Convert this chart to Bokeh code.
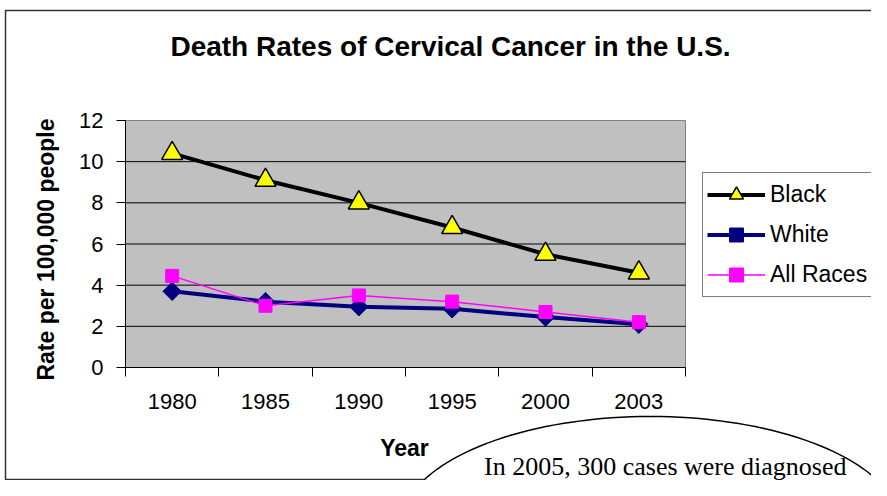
import math
from bokeh.plotting import figure
from bokeh.models import (FixedTicker, Range1d, LinearAxis, BoxAnnotation,
                          PolyAnnotation, Label)
from bokeh.embed import file_html
from bokeh.resources import INLINE

# ---- data ----
years = ["1980", "1985", "1990", "1995", "2000", "2003"]
black = [10.4, 9.1, 8.0, 6.8, 5.5, 4.6]
white = [3.7, 3.2, 2.95, 2.85, 2.45, 2.1]
all_races = [4.45, 3.0, 3.5, 3.2, 2.7, 2.2]
y_ticks = [0, 2, 4, 6, 8, 10, 12]

title_text = "Death Rates of Cervical Cancer in the U.S."
y_title = "Rate per 100,000 people"
x_title = "Year"
note_text = "In 2005, 300 cases  were diagnosed"

FONT = "Liberation Sans"
W, H = 871, 480
# plot-area placement on the canvas (pixels)
PL, PR, PT, PB = 125, 685, 120, 367

n = len(years)
ymax = y_ticks[-1]
xs = [i + 0.5 for i in range(n)]
bounds = list(range(n + 1))
ppx = (PR - PL) / n
ppy = (PB - PT) / ymax


def to_data_x(px):
    return (px - PL) / ppx


def to_data_y(py):
    return (PB - py) / ppy


p = figure(width=W, height=H, output_backend="svg", toolbar_location=None,
           x_range=Range1d(to_data_x(0), to_data_x(W)),
           y_range=Range1d(to_data_y(H), to_data_y(0)),
           min_border=0, x_axis_location=None, y_axis_location=None)
p.title.text = ""
p.grid.visible = False
p.outline_line_color = None
p.background_fill_color = "white"
p.border_fill_color = "white"

# plot area background
p.add_layout(BoxAnnotation(left=0, right=n, bottom=0, top=ymax, level="image",
                           fill_color="#C0C0C0", fill_alpha=1,
                           line_color="#808080", line_alpha=1, line_width=1))
# horizontal gridlines
gv = y_ticks[1:-1]
p.segment(x0=[0] * len(gv), x1=[n] * len(gv), y0=gv, y1=gv,
          line_color="black", line_width=1, level="underlay")

# axes pinned to the plot-area edges
xaxis = LinearAxis(fixed_location=0, bounds=(0, n),
                   ticker=FixedTicker(ticks=xs, minor_ticks=bounds),
                   major_label_overrides={x: y for x, y in zip(xs, years)})
xaxis.major_tick_line_color = None
xaxis.minor_tick_line_color = "black"
xaxis.minor_tick_out = 9
xaxis.minor_tick_in = 0
xaxis.major_label_standoff = 17
yaxis = LinearAxis(fixed_location=0, bounds=(0, ymax), ticker=FixedTicker(ticks=y_ticks))
yaxis.minor_tick_line_color = None
yaxis.major_tick_out = 9
yaxis.major_tick_in = 0
yaxis.major_label_standoff = 13
for ax in (xaxis, yaxis):
    ax.axis_line_color = "black"
    ax.axis_line_width = 1
    ax.major_label_text_font = FONT
    ax.major_label_text_font_size = "22px"
    ax.major_label_text_color = "black"
p.add_layout(xaxis, "below")
p.add_layout(yaxis, "left")

# outer sheet border (decoration, open path: top, left, bottom)
p.line([to_data_x(W + 100), to_data_x(5), to_data_x(5), to_data_x(W + 100)],
       [to_data_y(10), to_data_y(10), to_data_y(479), to_data_y(479)],
       line_color="#333333", line_width=1.5, level="underlay")

# series
p.line(xs, black, line_color="black", line_width=4, legend_label="Black")
p.scatter(xs, black, marker="triangle", size=21, fill_color="#FFFF00",
          line_color="black", line_width=1.5, legend_label="Black")
p.line(xs, white, line_color="#000080", line_width=4, legend_label="White")
p.scatter(xs, white, marker="square", angle=math.pi / 4, size=13,
          fill_color="#000080", line_color="#000080", legend_label="White")
p.line(xs, all_races, line_color="#FF00FF", line_width=1.5, legend_label="All Races")
p.scatter(xs, all_races, marker="square", size=13, fill_color="#FF00FF",
          line_color="#FF00FF", legend_label="All Races")

lg = p.legend[0]
lg.location = (702, H - 297)
lg.border_line_color = "black"
lg.border_line_width = 1
lg.background_fill_color = "white"
lg.background_fill_alpha = 1
lg.label_text_font = FONT
lg.label_text_font_size = "23px"
lg.label_text_color = "black"
lg.label_text_baseline = "middle"
lg.glyph_width = 58
lg.glyph_height = 35
lg.label_height = 35
lg.spacing = 5
lg.padding = 4
lg.margin = 0
lg.label_standoff = 5

# callout ellipse (decoration)
cx, cy, ea, eb = 650, H - 526, 250, 110
ns = 160
p.add_layout(PolyAnnotation(
    xs=[cx + ea * math.cos(2 * math.pi * k / ns) for k in range(ns)],
    ys=[cy + eb * math.sin(2 * math.pi * k / ns) for k in range(ns)],
    xs_units="screen", ys_units="screen",
    fill_color="white", fill_alpha=1, line_color="black", line_alpha=1,
    line_width=1.5))

# texts (y = vertical centre, in pixels from the top)
def lab(x, y, text, size, bold=True, font=FONT, angle=0.0):
    p.add_layout(Label(x=x, y=H - y, x_units="screen", y_units="screen", text=text,
                       angle=angle, text_font=font, text_font_size=size,
                       text_font_style="bold" if bold else "normal",
                       text_align="center", text_baseline="middle", text_color="black"))

lab(450, 46, title_text, "28px")
lab(45, 249, y_title, "23px", angle=math.pi / 2)
lab(404, 447, x_title, "23px")
lab(668, 466, note_text, "26px", bold=False, font="Liberation Serif")

open("out.html", "w").write(file_html(p, INLINE))
